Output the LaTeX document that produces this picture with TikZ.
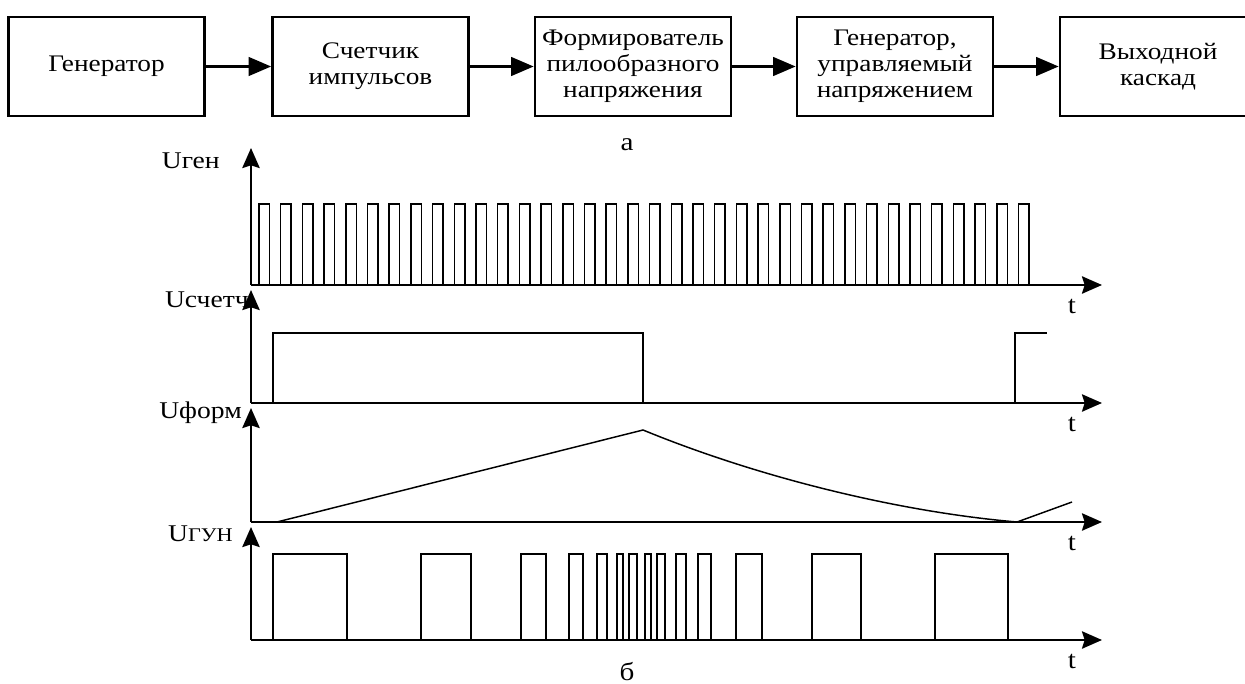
\documentclass[tikz,border=0pt]{standalone}
\usepackage{fontspec}
\setmainfont{Liberation Serif}[FakeStretch=1.15]
\usetikzlibrary{arrows.meta}
\begin{document}
\begin{tikzpicture}[x=0.75pt,y=-0.75pt,
  block/.style={draw, line width=2pt, minimum width=147pt, minimum height=74.25pt, align=center, inner sep=0pt, font=\fontsize{17.8}{19.5}\selectfont},
  conn/.style={line width=2pt, -{Triangle[length=17pt,width=14pt]}},
  axis/.style={line width=1.7pt, -{Stealth[length=15pt,width=13pt,inset=2pt]}},
  sig/.style={line width=1.1pt, line join=miter},
  lbl/.style={font=\fontsize{18}{18}\selectfont, inner sep=0pt, anchor=east},
  tl/.style={font=\fontsize{19}{19}\selectfont, inner sep=0pt},
  captext/.style={font=\fontsize{19}{19}\selectfont, inner sep=0pt}]
\useasboundingbox (0,0) rectangle (1245,684);
% blocks
\node[block] (b1) at (106.5,66.5) {Генератор};
\node[block] (b2) at (370.5,66.5) {Счетчик\\импульсов};
\node[block] (b3) at (633,66.5) {Формирователь\\пилообразного\\напряжения};
\node[block] (b4) at (895,66.5) {Генератор,\\управляемый\\напряжением};
\node[block] (b5) at (1158,66.5) {Выходной\\каскад};
\draw[conn] (b1) -- (b2);
\draw[conn] (b2) -- (b3);
\draw[conn] (b3) -- (b4);
\draw[conn] (b4) -- (b5);
\node[captext] (la) at (627,145) {а};
\node[captext] (lb) at (627,672) {б};
% Ugen pulses
\foreach \i in {0,...,35}
  \draw[sig] ({259+21.7*\i},285) -- ++(0,-81) -- ++(10.5,0) -- ++(0,81);
% Uschetch
\draw[sig] (273,403) -- (273,333) -- (643,333) -- (643,403);
\draw[sig] (1015,403) -- (1015,333) -- (1047,333);
% Uform
\draw[sig] (277,522) -- (643,430) .. controls (760,478) and (900,512) .. (1017,522) -- (1072,502);
% UGUN
\foreach \a/\b in {273/347,421/471,521/546,569/583,597/607,617/623,629/637,645/651,657/665,676/686,698/711,736/762,812/861,935/1008}
  \draw[sig] (\a,640) -- (\a,554) -- (\b,554) -- (\b,640);
% axes
\foreach \base/\tip/\n in {285/148/1,403/290/2,522/408/3,640/527/4}{
  \coordinate (o\n) at (251,\base);
  \coordinate (v\n) at (251,\tip);
  \coordinate (h\n) at (1102,\base);
  \draw[axis] (o\n) -- (v\n);
  \draw[axis] (o\n) -- (h\n);
  \node[tl] (t\n) at (1072,\base+21) {t};
}
\node[lbl] (l1) at (220,161) {Uген};
\node[lbl] (l2) at (249,300) {Uсчетч};
\node[lbl] (l3) at (242,413) {Uформ};
\node[lbl] (l4) at (233,534) {U\fontsize{14.5}{14.5}\selectfont ГУН};
\end{tikzpicture}
\end{document}
